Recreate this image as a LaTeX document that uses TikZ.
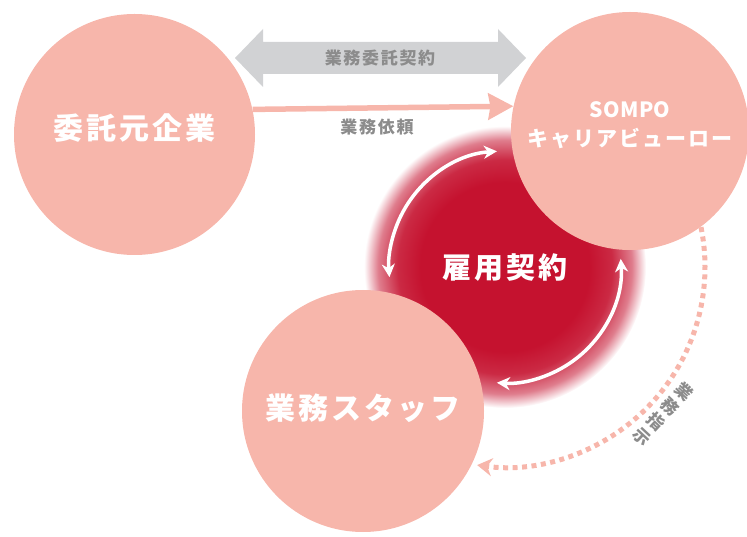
\documentclass[tikz,border=0pt]{standalone}
\usepackage{fontspec}
\newfontfamily\jp{Noto Sans CJK JP}[LetterSpace=10]
\usetikzlibrary{arrows.meta,calc}
\definecolor{kpink}{HTML}{F7B6AB}
\definecolor{kred}{HTML}{C5122F}
\definecolor{kgray}{HTML}{D1D2D4}
\definecolor{ktext}{HTML}{8C8C8C}
\pgfdeclareradialshading{glow}{\pgfpoint{0bp}{0bp}}{color(0bp)=(kred); color(15bp)=(kred); color(19bp)=(kred!90!white); color(22.5bp)=(kred!55!white); color(25bp)=(white); color(50bp)=(white)}
\tikzset{
  party/.style={circle, fill=kpink, inner sep=0pt, minimum size=#1},
  bigname/.style={text=white, inner sep=0pt, font=\jp\bfseries\fontsize{30}{36}\selectfont},
  smallname/.style={text=white, inner sep=0pt, align=center, font=\jp\bfseries\fontsize{21}{29}\selectfont},
  lbl/.style={text=ktext, inner sep=0pt, font=\jp\bfseries\fontsize{17}{20.5}\selectfont},
  bond/.style={draw=white, line width=3.5pt, {Stealth[length=13pt,width=13pt,inset=4pt]}-{Stealth[length=13pt,width=13pt,inset=4pt]}},
  request/.style={draw=kpink, line width=5.5pt, -{Stealth[length=25pt,width=26pt,inset=2pt]}},
  order/.style={draw=kpink, line width=5pt, dash pattern=on 5pt off 4.5pt, -{Stealth[length=15pt,width=18pt,inset=5pt]}}
}
\begin{document}
\begin{tikzpicture}[x=1pt, y=1pt]
  \useasboundingbox (0,0) rectangle (747,536);
  % glow of the employment contract
  \node[circle, shading=glow, minimum size=282pt, inner sep=0pt] (ky) at (505,269) {};
  \node[party=241pt] (wl) at (134.5,401.5) {};
  \node[party=238pt] (sc) at (630,405) {};
  \node[party=242pt] (st) at (363,125) {};
  \node[bigname] (wltext) at ([yshift=6pt]wl.center) {委託元企業};
  \node[bigname] (sttext) at ([yshift=3pt]st.center) {業務スタッフ};
  \node[smallname] (sctext) at ([yshift=6pt]sc.center) {{\addfontfeatures{LetterSpace=2}SOMPO}\\キャリアビューロー};
  \node[text=white, inner sep=0pt, font=\jp\bfseries\fontsize{29}{34}\selectfont] (kytext) at ([yshift=-1pt]ky.center) {雇用契約};
  % contract arrow
  \fill[kgray] (235,478) -- (263,507) -- (263,494) -- (498,494) -- (498,507) -- (526,478)
    -- (498,449) -- (498,462) -- (263,462) -- (263,449) -- cycle;
  \node[lbl] (itaku) at (380,478) {業務委託契約};
  % request
  \draw[request] (wl.12.7) -- (sc.168.9);
  \node[lbl] (irai) at (377,409) {業務依頼};
  % employment
  \draw[bond] ($(ky.center)+(94:116)$) arc[start angle=94, end angle=185, radius=116];
  \draw[bond] ($(ky.center)+(4:116)$) arc[start angle=4, end angle=-94, radius=116];
  % instructions
  \draw[order] ($(ky.center)+(11.5:200)$) arc[start angle=11.5, end angle=-98, radius=200];
  \node[lbl, rotate=-43, align=center] (shiji) at ($(ky.center)+(-43:216)$) {業\\務\\指\\示};
\end{tikzpicture}
\end{document}
